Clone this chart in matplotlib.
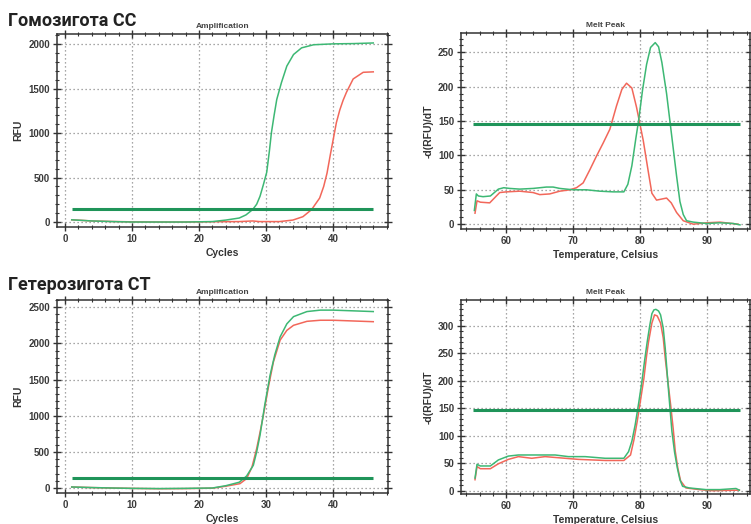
import matplotlib
matplotlib.use("Agg")
import matplotlib.pyplot as plt
from matplotlib.ticker import MultipleLocator

# ---------------- data ----------------
# Homozygote CC: amplification
cc_amp_green_x = [1, 4, 7, 10, 14, 18, 22, 24, 26, 27, 28, 28.6, 29.1, 29.6, 30.1, 30.5, 30.8, 31.2, 31.6, 32.3, 33.1, 34.1, 35.3, 37.1, 40, 43, 46]
cc_amp_green_y = [25, 12, 5, 0, 0, 0, 5, 22, 45, 80, 140, 200, 290, 420, 560, 800, 1005, 1200, 1380, 1570, 1755, 1885, 1960, 1995, 2005, 2008, 2015]
cc_amp_red_x = [1, 4, 7, 10, 14, 18, 22, 26, 28, 29, 32, 34, 35.5, 36.8, 38, 38.6, 39.1, 39.6, 40.1, 40.5, 41, 41.5, 42, 43, 44.5, 46]
cc_amp_red_y = [25, 12, 6, 2, 0, 0, 3, 5, 12, 5, 5, 22, 60, 140, 270, 400, 550, 760, 960, 1120, 1260, 1370, 1460, 1610, 1685, 1690]

# Homozygote CC: melt peak
cc_melt_green_x = [55.2, 55.5, 55.8, 56.5, 57.6, 58.2, 58.8, 59.6, 60.5, 62, 64, 66, 67, 68, 70, 72, 74, 76, 77.6, 78.2, 78.8, 79.4, 79.8, 80.4, 81, 81.6, 82.3, 82.8, 83.3, 84, 84.5, 85, 85.5, 86, 86.5, 87, 88, 90, 92, 94, 95]
cc_melt_green_y = [20, 44, 41, 40, 41, 46, 51, 53, 52, 51, 52, 54, 54, 52, 50, 50, 48, 47, 47, 58, 85, 125, 150, 195, 232, 257, 264, 258, 235, 190, 150, 110, 70, 33, 14, 5, 3, 1, 2, 1, -1]
cc_melt_red_x = [55.3, 55.6, 56.1, 57.5, 58.4, 59, 60, 62, 64, 65, 66.5, 68, 69.5, 70.5, 71.5, 72.5, 73.5, 74.5, 75.5, 76.5, 77.3, 78, 78.8, 79.5, 80.5, 81.3, 81.8, 82.5, 83.5, 84, 84.7, 85.5, 86.5, 88, 90, 92, 94.7]
cc_melt_red_y = [16, 34, 32, 31, 40, 46, 47, 48, 46, 43, 44, 48, 50, 53, 60, 79, 99, 118, 138, 172, 196, 205, 198, 170, 122, 74, 45, 35, 37, 38, 31, 17, 5, 0, 2, 3, 0]

# Heterozygote CT: amplification
ct_amp_green_x = [1, 4, 7, 10, 14, 18, 22, 24, 26, 27.1, 28.1, 28.6, 29.1, 29.8, 30.6, 31.3, 32.1, 33.1, 34.1, 36.1, 38.1, 40, 43, 46]
ct_amp_green_y = [14, 6, 0, -5, -8, -5, 0, 32, 80, 166, 314, 500, 730, 1145, 1560, 1840, 2090, 2270, 2370, 2440, 2460, 2460, 2450, 2440]
ct_amp_red_x = [1, 4, 7, 10, 14, 18, 22, 24, 26.1, 27.1, 27.9, 28.6, 29.1, 29.6, 30.4, 31.1, 32.1, 33.1, 34.1, 36.1, 38.1, 40, 43, 46]
ct_amp_red_y = [14, 6, 0, -5, -10, -8, -2, 25, 60, 130, 290, 545, 770, 1006, 1420, 1745, 2045, 2180, 2250, 2305, 2320, 2320, 2310, 2300]

# Heterozygote CT: melt peak
ct_melt_green_x = [55.3, 55.6, 56.1, 57.6, 58.8, 60.3, 61.8, 64.8, 67.3, 69.3, 71.8, 74.8, 77.6, 78.3, 78.8, 79.3, 79.8, 80.3, 80.7, 81.1, 81.5, 81.8, 82.1, 82.4, 82.8, 83.1, 83.5, 83.8, 84.3, 84.8, 85.2, 85.6, 86, 86.4, 87.4, 89.9, 92, 94.4, 94.9]
ct_melt_green_y = [23, 48, 45, 45, 56, 63, 65, 65, 65, 62, 62, 59, 59, 71, 90, 120, 158, 198, 236, 271, 302, 322, 329, 330, 327, 320, 296, 259, 181, 108, 70, 42, 20, 8, 5, 2, 2, 4, 1]
ct_melt_red_x = [55.3, 55.6, 56.1, 57.6, 58.8, 60.3, 61.8, 63.8, 65.8, 67.8, 70.8, 74.8, 77.6, 78.6, 79.1, 79.6, 80.1, 80.6, 81, 81.3, 81.8, 82.2, 82.6, 83.1, 83.5, 83.8, 84.2, 84.6, 85, 85.3, 85.7, 86.1, 86.9, 88.9, 90.9, 94.9]
ct_melt_red_y = [20, 44, 40, 40, 49, 57, 62, 59, 62, 60, 57, 55, 55, 65, 92, 126, 165, 204, 245, 271, 305, 320, 318, 305, 278, 241, 199, 157, 112, 72, 40, 18, 5, 2, 0, 1]

# thresholds
cc_amp_threshold = 142
ct_amp_threshold = 144
cc_melt_threshold = 146
ct_melt_threshold = 147

# ---------------- style ----------------
GREEN = "#3db874"
RED = "#f2675a"
THRESH = "#1f9459"
TICK_COLOR = "#3a3a3a"
FONT = "Liberation Sans"

W, H = 751, 524
fig = plt.figure(figsize=(W / 100, H / 100), dpi=100)
fig.patch.set_facecolor("white")


def px_axes(left, top, right, bottom):
    return fig.add_axes([left / W, 1 - bottom / H, (right - left) / W, (bottom - top) / H])


def style_axes(ax, xmaj, xmin, ymaj, ymin):
    ax.xaxis.set_major_locator(MultipleLocator(xmaj))
    ax.xaxis.set_minor_locator(MultipleLocator(xmin))
    ax.yaxis.set_major_locator(MultipleLocator(ymaj))
    ax.yaxis.set_minor_locator(MultipleLocator(ymin))
    ax.grid(True, which="major", linestyle=(0, (1, 2.2)), color="#8a8a8a", linewidth=0.9)
    ax.set_axisbelow(True)
    for s in ax.spines.values():
        s.set_color("#333333")
        s.set_linewidth(1.1)
    ax.tick_params(which="both", direction="inout", top=True, right=True,
                   color="#333333", labelcolor=TICK_COLOR)
    ax.tick_params(which="major", length=6, width=1.0, labelsize=7, pad=2)
    ax.tick_params(which="minor", length=3.5, width=0.8)
    for lab in ax.get_xticklabels() + ax.get_yticklabels():
        lab.set_fontfamily(FONT)
        lab.set_fontweight("bold")


def amp_panel(top, bottom, gx, gy, rx, ry, thr, ylim, ymaj):
    ax = px_axes(57, top, 388, bottom)
    ax.plot(rx, ry, color=RED, linewidth=1.1)
    ax.plot(gx, gy, color=GREEN, linewidth=1.1)
    ax.plot([1, 46], [thr, thr], color=THRESH, linewidth=2.2, solid_capstyle="butt")
    ax.set_xlim(-1.2, 48.2)
    ax.set_ylim(*ylim)
    style_axes(ax, 10, 2, ymaj, 100)
    ax.set_title("Amplification", fontsize=6, fontweight="bold", color="#444444",
                 family=FONT, pad=4)
    ax.set_xlabel("Cycles", fontsize=7.5, fontweight="bold", color="#333333",
                  family=FONT, labelpad=3)
    ax.set_ylabel("RFU", fontsize=7.5, fontweight="bold", color="#333333",
                  family=FONT, labelpad=4)
    return ax


def melt_panel(top, bottom, gx, gy, rx, ry, thr, ylim):
    ax = px_axes(461, top, 750, bottom)
    ax.plot(rx, ry, color=RED, linewidth=1.1)
    ax.plot(gx, gy, color=GREEN, linewidth=1.1)
    ax.plot([55, 95], [thr, thr], color=THRESH, linewidth=2.2, solid_capstyle="butt")
    ax.set_xlim(53.2, 96.5)
    ax.set_ylim(*ylim)
    style_axes(ax, 10, 2, 50, 10)
    ax.set_title("Melt Peak", fontsize=6, fontweight="bold", color="#444444",
                 family=FONT, pad=4)
    ax.set_xlabel("Temperature, Celsius", fontsize=7.5, fontweight="bold",
                  color="#333333", family=FONT, labelpad=3)
    ax.set_ylabel("-d(RFU)/dT", fontsize=7.5, fontweight="bold", color="#333333",
                  family=FONT, labelpad=3)
    return ax


amp_panel(34, 227, cc_amp_green_x, cc_amp_green_y, cc_amp_red_x, cc_amp_red_y,
          cc_amp_threshold, (-56, 2116), 500)
melt_panel(33, 229, cc_melt_green_x, cc_melt_green_y, cc_melt_red_x, cc_melt_red_y,
           cc_melt_threshold, (-7, 278))
amp_panel(300, 493, ct_amp_green_x, ct_amp_green_y, ct_amp_red_x, ct_amp_red_y,
          ct_amp_threshold, (-69, 2600), 500)
melt_panel(300, 494, ct_melt_green_x, ct_melt_green_y, ct_melt_red_x, ct_melt_red_y,
           ct_melt_threshold, (-6, 347))

# section headings
fig.text(8 / W, 1 - 26 / H, "Гомозигота CC", fontsize=13, fontweight="bold",
         family="Roboto", color="#222222", ha="left", va="baseline")
fig.text(8 / W, 1 - 290 / H, "Гетерозигота CT", fontsize=13, fontweight="bold",
         family="Roboto", color="#222222", ha="left", va="baseline")

fig.savefig("out.png", dpi=100, facecolor="white")
